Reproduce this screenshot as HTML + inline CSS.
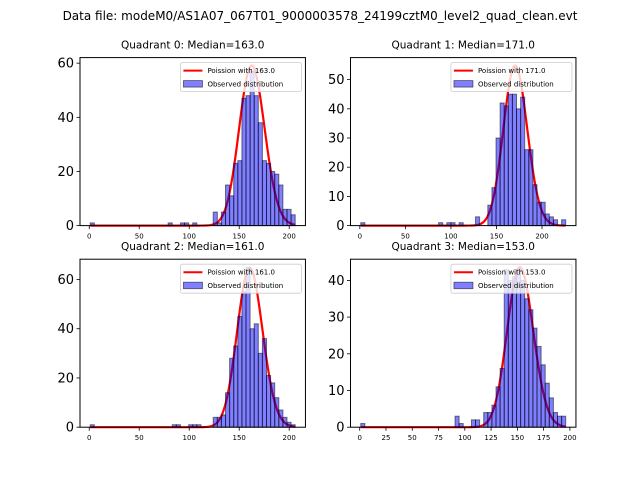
<!DOCTYPE html>
<html><head><meta charset="utf-8"><style>
body{margin:0;background:#fff;}
svg text{font-family:"DejaVu Sans","Liberation Sans",sans-serif;fill:#000;}
</style></head><body>
<svg id="fig" width="640" height="480" viewBox="0 0 640 480" xmlns="http://www.w3.org/2000/svg">
<rect width="640" height="480" fill="#fff"/>
<text x="320" y="20" font-size="12" text-anchor="middle">Data file: modeM0/AS1A07_067T01_9000003578_24199cztM0_level2_quad_clean.evt</text>
</svg>
<script>
const q0Counts=[1,0,0,0,0,0,0,0,0,0,0,0,0,0,0,0,0,0,0,1,0,0,1,1,0,1,0,0,0,0,5,1,5,15,11,23,24,47,48,57,48,38,24,23,20,19,15,6,6,4];
const q1Counts=[1,0,0,0,0,0,0,0,0,0,0,0,0,0,0,0,0,0,0,1,0,1,1,0,1,0,0,0,3,0,0,7,13,30,42,41,45,45,40,44,26,26,14,8,8,4,3,2,0,2];
const q2Counts=[1,0,0,0,0,0,0,0,0,0,0,0,0,0,0,0,0,0,0,0,1,1,0,0,1,1,1,0,0,0,4,4,5,14,28,33,45,55,65,40,42,30,36,21,18,12,7,4,2,1];
const q3Counts=[1,0,0,0,0,0,0,0,0,0,0,0,0,0,0,0,0,0,0,0,0,0,0,3,1,0,0,2,2,0,4,4,6,11,16,43,40,41,43,40,35,32,27,22,17,12,8,4,3,3];
const binRanges=[[1,206],[1,226],[1,206],[1,196]];
const medians=[163.0,171.0,161.0,153.0];
const poissonPeaks=[59.1,54.8,64.7,43.6];
const xTicks=[[0,50,100,150,200],[0,50,100,150,200],[0,50,100,150,200],[0,25,50,75,100,125,150,175,200]];
const yTicks=[[0,20,40,60],[0,10,20,30,40,50],[0,20,40,60],[0,10,20,30,40]];
const allCounts=[q0Counts,q1Counts,q2Counts,q3Counts];

const NS="http://www.w3.org/2000/svg";
const svg=document.getElementById('fig');
function mk(tag,attrs,parent){const e=document.createElementNS(NS,tag);for(const k in attrs)e.setAttribute(k,attrs[k]);(parent||svg).appendChild(e);return e;}
function lgamma(x){return (x-0.5)*Math.log(x)-x+0.5*Math.log(2*Math.PI)+1/(12*x)-1/(360*x*x*x);}
function logpmf(k,mu){return k*Math.log(mu)-mu-lgamma(k+1);}
const axW=225.45,axH=168;
const boxes=[[80,57.6],[350.5,57.6],[80,259.2],[350.5,259.2]];
for(let q=0;q<4;q++){
  const counts=allCounts[q],[lo,hi]=binRanges[q],mu=medians[q],peak=poissonPeaks[q];
  const nb=counts.length,bw=(hi-lo)/nb;
  const ref=logpmf(Math.floor(mu),mu);
  const curve=[];
  for(let k=Math.floor(lo);k<=Math.ceil(hi);k++){
    curve.push([k,peak*Math.exp(logpmf(k,mu)-ref)]);
  }
  const ymaxData=Math.max(Math.max(...counts),Math.max(...curve.map(c=>c[1])));
  const ylim=ymaxData*1.05;
  const xr=hi-lo,x0=lo-0.05*xr,x1=hi+0.05*xr;
  const [bx,by]=boxes[q];
  const X=v=>bx+(v-x0)/(x1-x0)*axW;
  const Y=v=>by+axH-v/ylim*axH;
  const g=mk('g',{});
  
  
  const t=mk('text',{x:bx+axW/2,y:by-9,'font-size':'10.5','text-anchor':'middle'},g);
  
  
  t.textContent='Quadrant '+q+': Median='+mu.toFixed(1);
  const pl=mk('polyline',{points:curve.map(c=>X(c[0]).toFixed(2)+','+Y(c[1]).toFixed(2)).join(' '),fill:'none',stroke:'#ff0000','stroke-width':2.2},g);
  
  
  for(let i=0;i<nb;i++){
    if(counts[i]<=0)continue;
    const xa=X(lo+i*bw),xb=X(lo+(i+1)*bw);
    const r=mk('rect',{x:xa,y:Y(counts[i]),width:xb-xa,height:Y(0)-Y(counts[i]),fill:'rgba(0,0,255,0.5)',stroke:'rgba(0,0,0,0.5)','stroke-width':1},g);
    
    
  }
  const fr=mk('rect',{x:bx,y:by,width:axW,height:axH,fill:'none',stroke:'#000','stroke-width':1},g);
  
  
  for(const v of xTicks[q]){
    const xp=X(v);
    const l=mk('line',{x1:xp,x2:xp,y1:by+axH,y2:by+axH+3.5,stroke:'#000','stroke-width':0.8},g);
    
    
    const tx=mk('text',{x:xp,y:by+axH+13,'font-size':'7','text-anchor':'middle'},g);
    
    
    tx.textContent=v;
  }
  for(const v of yTicks[q]){
    const yp=Y(v);
    const l=mk('line',{x1:bx-3.5,x2:bx,y1:yp,y2:yp,stroke:'#000','stroke-width':0.8},g);
    
    
    const ty=mk('text',{x:bx-6,y:yp+4.5,'font-size':'13','text-anchor':'end'},g);
    
    
    ty.textContent=v;
  }
  const lx=bx+axW-125,ly=by+5;
  const lg=mk('g',{},g);
  
  
  mk('rect',{x:lx,y:ly,width:121,height:29,rx:2,fill:'rgba(255,255,255,0.8)',stroke:'#ccc','stroke-width':0.8},lg);
  const ll=mk('line',{x1:lx+3,x2:lx+22,y1:ly+8,y2:ly+8,stroke:'#ff0000','stroke-width':2},lg);
  
  
  const lt=mk('text',{x:lx+27,y:ly+10.5,'font-size':'7'},lg);
  
  
  lt.textContent='Poission with '+mu.toFixed(1);
  const lr=mk('rect',{x:lx+3,y:ly+18,width:19,height:6.5,fill:'rgba(0,0,255,0.5)',stroke:'rgba(0,0,0,0.6)','stroke-width':0.8},lg);
  
  
  const lt2=mk('text',{x:lx+27,y:ly+24,'font-size':'7'},lg);
  
  
  lt2.textContent='Observed distribution';
}
</script>
</body></html>
